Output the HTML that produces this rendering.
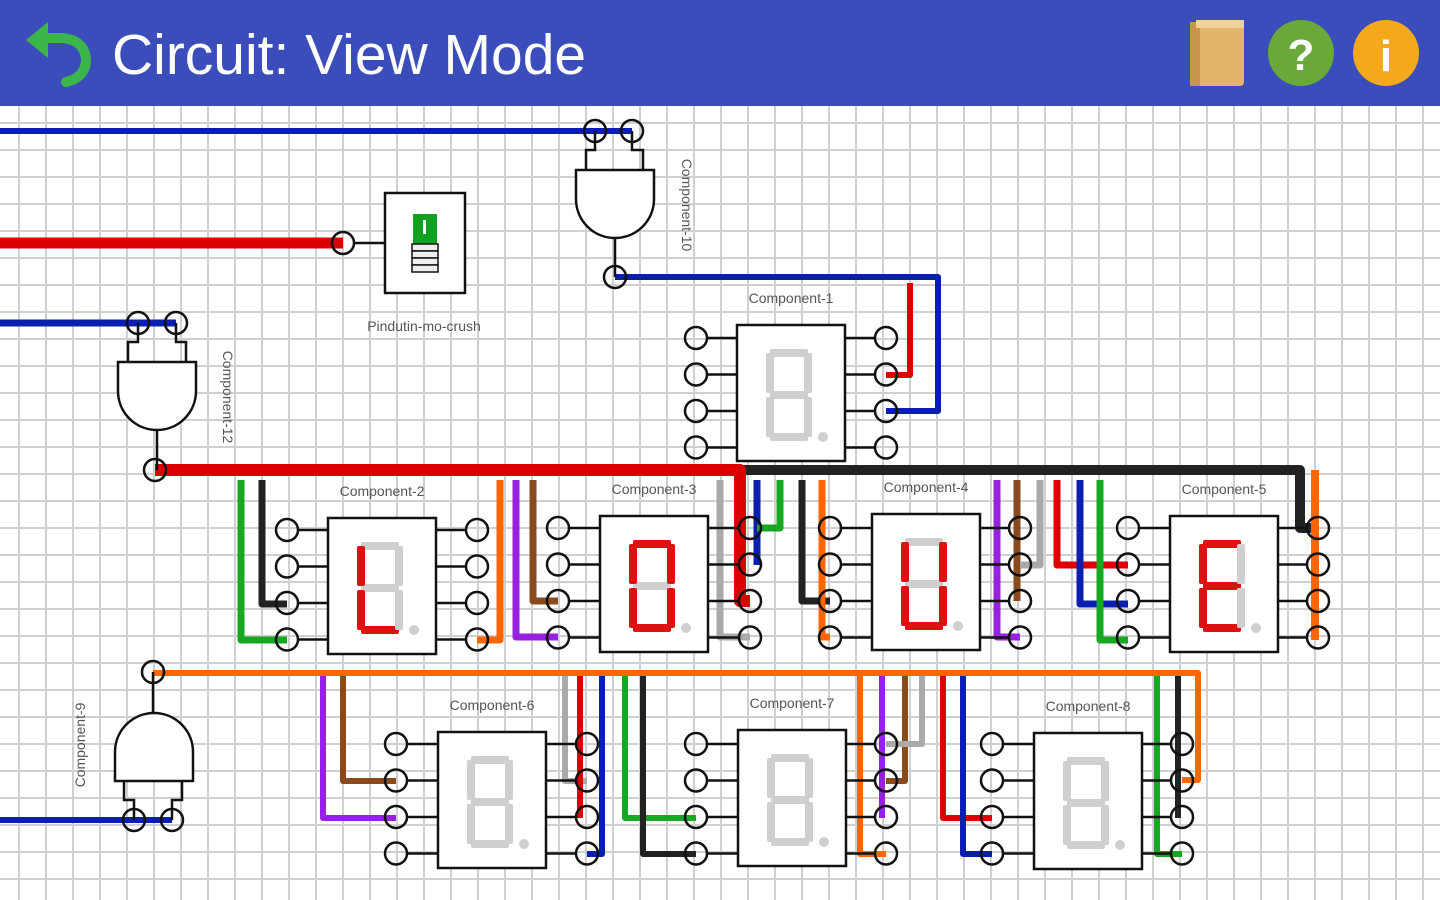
<!DOCTYPE html>
<html><head><meta charset="utf-8"><style>
html,body{margin:0;padding:0;width:1440px;height:900px;overflow:hidden;background:#fff}
#hdr{position:absolute;left:0;top:0;width:1440px;height:106px;background:#3a4dbb}
#cv{position:absolute;left:0;top:106px;width:1440px;height:794px;
background-color:#fff;
background-image:linear-gradient(to right,#d0d0d0 2px,transparent 2px),linear-gradient(to bottom,#d0d0d0 2px,transparent 2px);
background-size:27px 27px;background-position:18px 16px}
svg{position:absolute;left:0;top:0}
text{font-family:"Liberation Sans",sans-serif}
</style></head><body>
<div id="hdr"></div>
<div id="cv"></div>
<svg id="s" width="1440" height="900" viewBox="0 0 1440 900">
<g>
<path d="M40 38 L62 38 Q86 40 86 62 Q84 78 66 82" fill="none" stroke="#3cb54a" stroke-width="10" stroke-linecap="round"/>
<polygon points="26,40 48,22 48,58" fill="#3cb54a"/>
<text x="112" y="74" font-size="57" fill="#fff">Circuit: View Mode</text>
<rect x="1190" y="22" width="54" height="64" rx="4" fill="#e2b56a"/>
<rect x="1190" y="22" width="10" height="64" fill="#c8964a"/>
<rect x="1196" y="20" width="48" height="8" fill="#f0d29a"/>
<circle cx="1301" cy="53" r="33" fill="#6aa83a"/>
<text x="1301" y="70" font-size="44" font-weight="bold" fill="#fff" text-anchor="middle">?</text>
<circle cx="1386" cy="53" r="33" fill="#f4a81c"/>
<text x="1386" y="71" font-size="44" font-weight="bold" fill="#fff" text-anchor="middle">i</text>
</g>
<g id="w" fill="none" stroke-linejoin="round"></g>
<g id="c"></g>
</svg>
<script>
var NS="http://www.w3.org/2000/svg";
function el(p,t,a){var e=document.createElementNS(NS,t);for(var k in a)e.setAttribute(k,a[k]);p.appendChild(e);return e}
var W=document.getElementById('w'),C=document.getElementById('c');
var R='#dd0000',B='#0a1fb0',G='#15a820',K='#222',O='#ff6600',P='#9a20e0',N='#8b4a1c',Y='#aaaaaa';
function wire(col,pts,sw){el(W,'polyline',{points:pts,stroke:col,'stroke-width':sw||7})}
wire(B,"0,131 632,131",6);
wire(R,"0,243 343,243",11);
wire(B,"0,323 176,323",7);
wire(B,"615,277 938,277 938,411 886,411",6);
wire(R,"910,283 910,375 886,375",6);
wire(K,"740,470 1300,470 1300,528 1318,528",10);
wire(O,"1315,470 1315,640",8);
wire(G,"241,480 241,640 287,640");
wire(K,"262,480 262,604 287,604");
wire(O,"500,480 500,640 477,640");
wire(P,"516,480 516,637 558,637");
wire(N,"533,480 533,601 558,601");
wire(Y,"720,480 720,637 750,637");
wire(B,"757,480 757,565");
wire(G,"780,480 780,528 757,528");
wire(K,"802,480 802,601 830,601");
wire(O,"822,480 822,637 830,637");
wire(P,"997,480 997,637 1020,637");
wire(N,"1017,480 1017,601");
wire(Y,"1040,480 1040,565 1020,565");
wire(R,"1057,480 1057,565 1128,565");
wire(B,"1080,480 1080,604 1128,604");
wire(G,"1100,480 1100,640 1128,640");
wire(R,"155,470 740,470 740,601 750,601",12);
wire(O,"153,673 1198,673 1198,780 1182,780",6);
wire(P,"323,676 323,818 396,818",6);
wire(N,"343,676 343,781 396,781",6);
wire(Y,"565,676 565,781 587,781",6);
wire(R,"580,676 580,818",6);
wire(B,"602,676 602,854 587,854",6);
wire(G,"625,676 625,818 696,818",6);
wire(K,"643,676 643,854 696,854",6);
wire(O,"860,676 860,854 886,854",6);
wire(P,"882,676 882,818",6);
wire(N,"905,676 905,781 886,781",6);
wire(Y,"922,676 922,744 886,744",6);
wire(R,"943,676 943,818 992,818",6);
wire(B,"963,676 963,854 992,854",6);
wire(G,"1157,676 1157,854 1182,854",6);
wire(K,"1178,676 1178,818",6);

function pin(x,y){el(C,'circle',{cx:x,cy:y,r:11,fill:'none',stroke:'#111','stroke-width':2.5})}
function label(x,y,t,rot){var a={x:x,y:y,'font-size':14,fill:'#555','text-anchor':'middle'};if(rot)a.transform='rotate('+rot+' '+x+' '+y+')';var e=el(C,'text',a);e.textContent=t}
function disp(bx,by,lx,rx,py,on,name){
  var w=108,h=136,d=36.5;
  for(var i=0;i<4;i++){var y=py+i*d;
    el(C,'line',{x1:lx+11,y1:y,x2:bx,y2:y,stroke:'#111','stroke-width':2.5});
    el(C,'line',{x1:bx+w,y1:y,x2:rx-11,y2:y,stroke:'#111','stroke-width':2.5});
    pin(lx,y);pin(rx,y);}
  el(C,'rect',{x:bx,y:by,width:w,height:h,fill:'#fff',stroke:'#111','stroke-width':2.5});
  var x0=bx+29,y0=by+24,sw=46,sh=46,t=8;
  var segs={a:[x0+4,y0,sw-8,t],g:[x0+4,y0+sh-t/2,sw-8,t],d:[x0+4,y0+2*sh-t,sw-8,t],
    f:[x0,y0+4,t,sh-6],b:[x0+sw-t,y0+4,t,sh-6],e:[x0,y0+sh+2,t,sh-6],c:[x0+sw-t,y0+sh+2,t,sh-6]};
  for(var k in segs){var s=segs[k];el(C,'rect',{x:s[0],y:s[1],width:s[2],height:s[3],rx:2,fill:on.indexOf(k)>=0?'#dd1111':'#cfcfcf'})}
  el(C,'circle',{cx:x0+sw+11,cy:y0+2*sh-4,r:5,fill:'#cfcfcf'});
  label(bx+w/2,by-22,name);
}
disp(737,325,696,886,338,"", "Component-1");
disp(328,518,287,477,530,"fed","Component-2");
disp(600,516,558,750,528,"abcdef","Component-3");
disp(872,514,830,1020,528,"bcdef","Component-4");
disp(1170,516,1128,1318,528,"afged","Component-5");
disp(438,732,396,587,744,"","Component-6");
disp(738,730,696,886,744,"","Component-7");
disp(1034,733,992,1182,744,"","Component-8");
function gate(x,y,down){
  var w=78,h=68,p;
  if(down) p="M"+x+" "+y+" H"+(x+w)+" V"+(y+h-39)+" A39 39 0 0 1 "+x+" "+(y+h-39)+" Z";
  else p="M"+x+" "+(y+h)+" H"+(x+w)+" V"+(y+39)+" A39 39 0 0 0 "+x+" "+(y+39)+" Z";
  el(C,'path',{d:p,fill:'#fff',stroke:'#111','stroke-width':2.5});
}
el(C,'path',{d:"M595 131 V150 H586 V170 M632 131 V150 H643 V170 M615 238 V277",fill:'none',stroke:'#111','stroke-width':2.5});
gate(576,170,true);pin(595,131);pin(632,131);pin(615,277);
label(682,205,"Component-10",90);
el(C,'path',{d:"M138 323 V342 H128 V362 M176 323 V342 H186 V362 M157 430 V470",fill:'none',stroke:'#111','stroke-width':2.5});
gate(118,362,true);pin(138,323);pin(176,323);pin(155,470);
label(223,397,"Component-12",90);
el(C,'path',{d:"M153 672 V715 M134 820 V800 H124 V780 M172 820 V800 H182 V780",fill:'none',stroke:'#111','stroke-width':2.5});
gate(115,713,false);pin(153,672);pin(134,820);pin(172,820);
label(85,745,"Component-9",-90);
wire(B,"0,820 172,820",6);
el(C,'line',{x1:354,y1:243,x2:385,y2:243,stroke:'#111','stroke-width':2.5});
pin(343,243);
el(C,'rect',{x:385,y:193,width:80,height:100,fill:'#fff',stroke:'#111','stroke-width':2.5});
el(C,'rect',{x:413,y:214,width:24,height:30,fill:'#11a020'});
el(C,'rect',{x:423,y:220,width:3,height:14,fill:'#fff'});
for(var i=0;i<4;i++)el(C,'rect',{x:412,y:244+i*7,width:26,height:7,fill:'#eee',stroke:'#111','stroke-width':1.5});
label(424,331,"Pindutin-mo-crush");
</script>
</body></html>
